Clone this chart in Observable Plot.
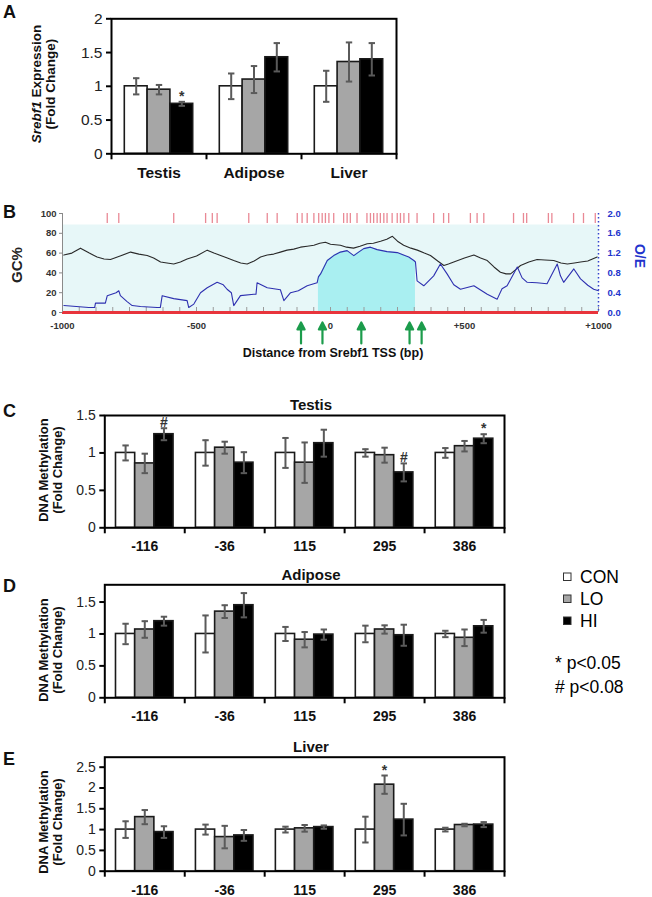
<!DOCTYPE html>
<html><head><meta charset="utf-8">
<script src="https://cdn.jsdelivr.net/npm/d3@7"></script>
<script src="https://cdn.jsdelivr.net/npm/@observablehq/plot@0.6"></script>
<style>
html,body{margin:0;padding:0;background:#fff;}
#fig{position:relative;width:652px;height:897px;overflow:hidden;background:#fff;}
#fig svg{position:absolute;left:0;}
</style></head><body><div id="fig"></div>
<script>
// ---------------- DATA ----------------
const groups = ["CON", "LO", "HI"];

// Panel A: Srebf1 expression
const exprTissues = ["Testis", "Adipose", "Liver"];
const exprMean = [[1.00, 0.95, 0.74], [1.00, 1.10, 1.43], [1.00, 1.36, 1.40]];
const exprErr  = [[0.12, 0.07, 0.03], [0.19, 0.20, 0.21], [0.23, 0.29, 0.24]];
const exprSig  = [[0, 2, "*"]];

// Panels C–E: DNA methylation at CpG sites
const cpgSites = ["-116", "-36", "115", "295", "386"];
const testisMean = [[1.00, 0.86, 1.25], [1.00, 1.07, 0.87], [1.00, 0.87, 1.13], [1.00, 0.97, 0.74], [1.00, 1.09, 1.19]];
const testisErr  = [[0.10, 0.13, 0.08], [0.17, 0.08, 0.14], [0.20, 0.27, 0.18], [0.05, 0.10, 0.12], [0.065, 0.07, 0.06]];
const testisSig  = [[0, 2, "#"], [3, 2, "#"], [4, 2, "*"]];
const adiposeMean = [[1.00, 1.07, 1.20], [1.00, 1.35, 1.45], [1.00, 0.91, 0.99], [1.00, 1.07, 0.98], [1.00, 0.94, 1.12]];
const adiposeErr  = [[0.16, 0.13, 0.07], [0.29, 0.10, 0.19], [0.11, 0.12, 0.08], [0.13, 0.065, 0.165], [0.05, 0.13, 0.10]];
const adiposeSig  = [];
const liverMean = [[1.00, 1.30, 0.94], [1.00, 0.82, 0.86], [1.00, 1.03, 1.06], [1.00, 2.08, 1.24], [1.00, 1.11, 1.12]];
const liverErr  = [[0.20, 0.17, 0.14], [0.12, 0.27, 0.13], [0.07, 0.08, 0.04], [0.31, 0.22, 0.38], [0.045, 0.03, 0.06]];
const liverSig  = [[3, 1, "*"]];

// Panel B: GC content / CpG O/E around Srebf1 TSS
const gcPos = [-995,-965,-933,-900,-871,-845,-821,-785,-746,-715,-684,-660,-634,-610,-585,-560,-535,-500,-460,-435,-410,-385,-361,-335,-311,-285,-261,-236,-212,-187,-162,-137,-112,-87,-62,-40,-19,0,37,60,86,110,137,160,187,210,231,250,273,300,324,350,373,400,423,440,460,500,535,560,585,610,634,655,672,690,709,740,771,800,833,860,884,910,933,960,995];
const gcPct = [58,60,65,60,56,54,53.5,57,61,59,57.6,55,51,50,49,51,54,57,63,60,57.6,55,52.5,50,49,52,56,58,59,61,63,64,66,67,68,70,71,69,68,66,65,67,69.5,70,72,74,77,72,68,65,63,60,57.6,52,47.5,49,51,55,58,55,52.5,46,40.7,39,39,43,47.5,51,53.5,53,52.5,50,49,50,51,52,56];
const oePos = [-995,-902,-880,-877,-840,-833,-800,-790,-784,-759,-740,-709,-647,-635,-628,-585,-560,-535,-529,-510,-485,-460,-423,-400,-386,-370,-361,-336,-286,-278,-274,-236,-187,-174,-149,-120,-87,-50,-45,-37,-12,12,37,62,87,105,124,149,174,211,249,292,311,317,323,348,385,410,435,460,485,535,585,622,640,659,697,715,734,770,808,846,858,870,908,933,960,982,1000];
const oeRatio = [0.14,0.10,0.10,0.19,0.19,0.34,0.40,0.44,0.34,0.22,0.14,0.12,0.10,0.10,0.34,0.28,0.26,0.24,0.10,0.17,0.40,0.50,0.61,0.56,0.47,0.40,0.14,0.34,0.37,0.37,0.60,0.50,0.46,0.24,0.40,0.44,0.54,0.60,0.72,0.78,1.05,1.15,1.22,1.25,1.15,1.22,1.29,1.32,1.27,1.23,1.21,1.12,1.05,1.02,0.64,0.54,0.74,0.98,0.78,0.56,0.47,0.54,0.37,0.27,0.48,0.54,0.92,0.70,0.61,0.60,0.58,0.98,0.74,0.61,0.88,0.68,0.55,0.47,0.44];
const islandStart = -45, islandEnd = 317;
const cpgPos = [-833,-790,-585,-466,-441,-423,-305,-236,-199,-124,-106,-87,-62,-44,-31,-19,-6,12,49,62,74,99,136,149,161,174,186,199,211,230,249,261,274,292,323,385,422,441,522,547,572,683,720,732,813,826,907,944,988];
const arrowPos = [-110, -30, 115, 295, 340];
const bpTicks = [-1000, -500, 0, 500, 1000];
const bpTickLabels = ["-1000", "-500", "0", "+500", "+1000"];
const gcTicks = [0, 20, 40, 60, 80, 100];
const oeTicks = [0, 0.4, 0.8, 1.2, 1.6, 2.0];

// ---------------- DRAWING ----------------
const FONT = '"Liberation Sans", Arial, Helvetica, sans-serif';
const fig = document.getElementById("fig");
const fills = {CON: "#ffffff", LO: "#a6a6a6", HI: "#000000"};
const capSymbol = {draw(ctx, size) { const w = Math.sqrt(size / Math.PI); ctx.moveTo(-w, 0); ctx.lineTo(w, 0); }};

function place(svg, top) {
  svg.style.position = "absolute";
  svg.style.top = top + "px";
  svg.style.left = "0px";
  fig.appendChild(svg);
}

function barPanel(o) {
  const n = o.cats.length;
  const rows = [];
  o.cats.forEach((c, i) => groups.forEach((g, j) => rows.push({i, j, cat: c, group: g, v: o.mean[i][j], e: o.err[i][j]})));
  const left = d => d.i + 0.14 + d.j * 0.24;
  const mid = d => left(d) + 0.12;
  const sigRows = o.sig.map(([i, j, s]) => ({i, j, s, top: o.mean[i][j] + o.err[i][j]}));
  const svg = Plot.plot({
    width: 652, height: o.height,
    marginTop: o.mt, marginBottom: o.mb, marginLeft: o.ml, marginRight: o.mr,
    x: {domain: [0, n], axis: null},
    y: {domain: [0, o.ymax], axis: null},
    style: {fontFamily: FONT, background: "transparent", overflow: "visible", color: "#000"},
    marks: [
      Plot.rectY(rows, {x1: left, x2: d => left(d) + 0.24, y: "v", fill: d => fills[d.group], stroke: "#1a1a1a", strokeWidth: 1.6}),
      Plot.ruleX(rows, {x: mid, y1: d => d.v - d.e, y2: d => d.v + d.e, stroke: "#5a5a5a", strokeWidth: 2}),
      Plot.dot(rows, {x: mid, y: d => d.v + d.e, symbol: capSymbol, r: 3.2, fill: "none", stroke: "#5a5a5a", strokeWidth: 2}),
      Plot.dot(rows, {x: mid, y: d => d.v - d.e, symbol: capSymbol, r: 3.2, fill: "none", stroke: "#5a5a5a", strokeWidth: 2}),
      Plot.text(sigRows, {x: mid, y: "top", text: "s", lineAnchor: "bottom", dy: -1, fontSize: 14, fontWeight: "bold", fill: "#333"}),
      Plot.frame({stroke: "#000", strokeWidth: 2}),
      Plot.axisY({ticks: o.yticks, tickFormat: d => String(d), tickSize: 5, tickPadding: 4, fontSize: o.tickFont, strokeWidth: 2, stroke: "#000", fill: "#222", label: null}),
      Plot.axisX({ticks: d3.range(n + 1), tickSize: 6, tickFormat: () => "", strokeWidth: 2, stroke: "#000", label: null}),
      Plot.text(o.cats, {x: (d, i) => i + 0.5, frameAnchor: "bottom", lineAnchor: "middle", dy: 19, text: d => d, fontSize: o.catFont, fontWeight: "bold", fill: "#111"})
    ]
  });
  place(svg, o.top);
}

// Panel A
barPanel({cats: exprTissues, mean: exprMean, err: exprErr, sig: exprSig, ymax: 2, yticks: [0, 0.5, 1, 1.5, 2],
  top: 0, height: 190, mt: 18.3, mb: 36.7, ml: 111, mr: 256, tickFont: 15.5, catFont: 15.5});
// Panel C
barPanel({cats: cpgSites, mean: testisMean, err: testisErr, sig: testisSig, ymax: 1.5, yticks: [0, 0.5, 1, 1.5],
  top: 390, height: 170, mt: 25, mb: 32.7, ml: 104.3, mr: 148, tickFont: 14, catFont: 14});
// Panel D
barPanel({cats: cpgSites, mean: adiposeMean, err: adiposeErr, sig: adiposeSig, ymax: 1.77, yticks: [0, 0.5, 1, 1.5],
  top: 550, height: 180, mt: 34.3, mb: 32.7, ml: 104.3, mr: 148, tickFont: 14, catFont: 14});
// Panel E
barPanel({cats: cpgSites, mean: liverMean, err: liverErr, sig: liverSig, ymax: 2.74, yticks: [0, 0.5, 1, 1.5, 2, 2.5],
  top: 730, height: 167, mt: 26.7, mb: 26.3, ml: 104.3, mr: 148, tickFont: 14, catFont: 14});

// Panel B
{
  const gcRows = gcPos.map((d, i) => ({d, v: gcPct[i]}));
  const oeRows = oePos.map((d, i) => ({d, v: oeRatio[i]}));
  const oeScale = 100 / 2; // right axis 0–2.0 aligned with left axis 0–100
  const island = oeRows.filter(r => r.d >= islandStart && r.d <= islandEnd);
  const arrowShape = {draw(ctx, l) { const h = 7, w = 3.6; ctx.moveTo(0, 0); ctx.lineTo(0, -l + h); ctx.moveTo(-w, -l + h); ctx.lineTo(0, -l); ctx.lineTo(w, -l + h); ctx.closePath(); }};
  const svg = Plot.plot({
    width: 652, height: 175, marginTop: 18, marginBottom: 58, marginLeft: 62, marginRight: 54,
    x: {domain: [-1000, 1000], axis: null, label: null},
    y: {domain: [0, 100], axis: null, label: null},
    style: {fontFamily: FONT, background: "transparent", overflow: "visible"},
    marks: [
      Plot.frame({fill: "#e7f7f8", stroke: "none", insetTop: 11}),
      Plot.areaY(island, {x: "d", y: d => d.v * oeScale, fill: "#a9eff1"}),
      Plot.ruleX(cpgPos, {x: d => d, insetTop: 0, insetBottom: 89, stroke: "#dd4a5c", strokeOpacity: 0.65, strokeWidth: 1.3}),
      Plot.ruleX(d3.range(-1000, 1000.1, 62.5), {x: d => d, insetTop: 94, stroke: "#9a9a9a", strokeWidth: 1}),
      Plot.line(gcRows, {x: "d", y: "v", stroke: "#2a2a2a", strokeWidth: 1.1}),
      Plot.line(oeRows, {x: "d", y: d => d.v * oeScale, stroke: "#2e30b0", strokeWidth: 1.1}),
      Plot.ruleY([0], {stroke: "#e8343c", strokeWidth: 3}),
      Plot.ruleX([-1000], {stroke: "#8a8a8a", strokeWidth: 1}),
      Plot.ruleX([1000], {stroke: "#3344cc", strokeWidth: 1.5, strokeDasharray: "1.5,2.5"}),
      Plot.axisY({ticks: gcTicks, tickSize: 3, tickPadding: 3, fontSize: 9.5, fontWeight: "bold", fill: "#333", stroke: "#888", label: null}),
      Plot.axisY({anchor: "right", ticks: oeTicks.map(v => v * oeScale), tickFormat: v => (v / oeScale).toFixed(1), tickSize: 0, tickPadding: 9, fontSize: 9.5, fontWeight: "bold", fill: "#2233cc", label: null}),
      Plot.text(bpTicks, {x: d => d, text: (d, i) => bpTickLabels[i], frameAnchor: "bottom", lineAnchor: "middle", dy: 13, fontSize: 9.5, fontWeight: "bold", fill: "#333"}),
      Plot.vector(arrowPos, {x: d => d, frameAnchor: "bottom", anchor: "start", length: 21, rotate: 0, shape: arrowShape, stroke: "#1c9c4c", fill: "#1c9c4c", strokeWidth: 2.2, dy: 31})
    ]
  });
  place(svg, 195);
}

// ---------------- TEXT OVERLAY ----------------
const ov = d3.select(fig).append("svg")
  .attr("width", 652).attr("height", 897)
  .style("position", "absolute").style("left", 0).style("top", 0)
  .style("font-family", FONT).style("pointer-events", "none");

function txt(x, y, s, size, o = {}) {
  const t = ov.append("text").attr("x", x).attr("y", y).attr("font-size", size)
    .attr("font-weight", o.weight || "bold").attr("fill", o.fill || "#111")
    .attr("text-anchor", o.anchor || "start").text(s);
  return t;
}
function vtxt(cx, cy, s, size, o = {}) {
  const g = ov.append("g").attr("transform", `translate(${cx},${cy}) rotate(${o.rot || -90})`);
  const t = g.append("text").attr("text-anchor", "middle").attr("dy", "0.35em")
    .attr("font-size", size).attr("font-weight", "bold").attr("fill", o.fill || "#111");
  if (o.parts) o.parts.forEach(([str, st]) => t.append("tspan").attr("font-style", st || null).text(str));
  else t.text(s);
  return g;
}

// panel letters
[["A", 18], ["B", 218], ["C", 417], ["D", 592], ["E", 765]].forEach(([l, y]) => txt(3, y, l, 18));

// panel A y title
vtxt(36, 84, null, 13.5, {parts: [["Srebf1", "italic"], [" Expression"]]});
vtxt(50, 84, "(Fold Change)", 13.5);

// methylation y titles
[[470], [650], [822]].forEach(([cy]) => {
  vtxt(43, cy, "DNA Methylation", 13);
  vtxt(57, cy, "(Fold Change)", 13);
});

// panel titles
txt(311, 410, "Testis", 15, {anchor: "middle"});
txt(311, 580, "Adipose", 15, {anchor: "middle"});
txt(311, 752, "Liver", 15, {anchor: "middle"});

// panel B titles
vtxt(17, 265, "GC%", 15, {fill: "#222"});
vtxt(640, 256, "O/E", 14, {rot: 90, fill: "#2233cc"});
txt(333, 357, "Distance from Srebf1 TSS (bp)", 12.5, {anchor: "middle", fill: "#111"});

// legend
const legendRows = [["CON", "#ffffff", 577], ["LO", "#a6a6a6", 599], ["HI", "#000000", 621]];
legendRows.forEach(([name, color, cy]) => {
  ov.append("rect").attr("x", 563.5).attr("y", cy - 4).attr("width", 7.5).attr("height", 7.5)
    .attr("fill", color).attr("stroke", "#333").attr("stroke-width", 1);
  txt(580, cy + 6.2, name, 17.5, {weight: "normal", fill: "#000"});
});
txt(555, 669, "* p<0.05", 17.5, {weight: "normal", fill: "#000"});
txt(555, 692.5, "# p<0.08", 17.5, {weight: "normal", fill: "#000"});
</script></body></html>
